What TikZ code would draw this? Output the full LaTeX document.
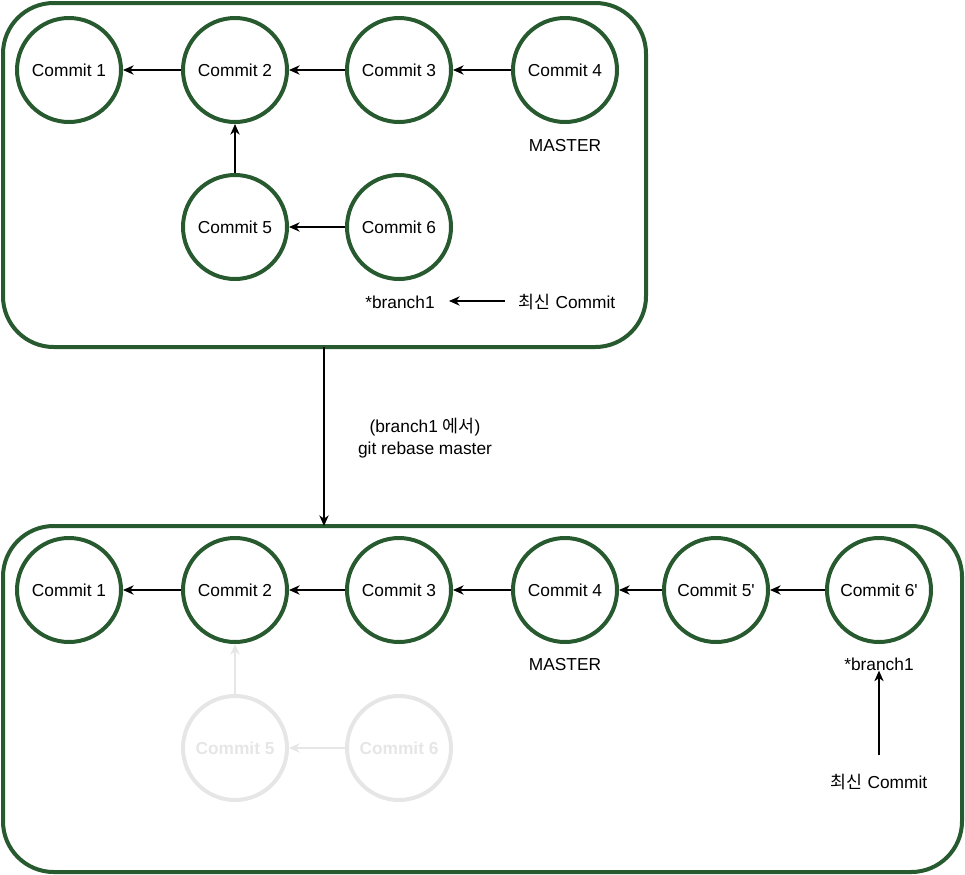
\documentclass[tikz,border=0pt]{standalone}
\usepackage{fontspec}
\setmainfont{Liberation Sans}
\newfontfamily\plainfont{Liberation Sans}
\newfontfamily\kr{Noto Sans CJK KR}
\usetikzlibrary{arrows.meta}
\definecolor{grn}{RGB}{40,90,48}
\definecolor{ghost}{RGB}{230,230,230}
\tikzset{
  commit/.style={circle,draw=grn,line width=3pt,minimum size=78pt,inner sep=0pt,font=\fontsize{13}{15}\selectfont},
  ghostc/.style={circle,draw=ghost,line width=3pt,minimum size=78pt,inner sep=0pt,text=ghost,font=\fontsize{13}{15}\selectfont\bfseries},
  lbl/.style={inner sep=0pt,font=\fontsize{13}{15}\selectfont},
  arr/.style={-{Stealth[length=8pt,width=7pt,inset=2.5pt]},line width=0.9pt},
  garr/.style={arr,draw=ghost},
  panel/.style={draw=grn,line width=3pt,rounded corners=38pt},
}
\begin{document}
\begin{tikzpicture}[x=0.75pt,y=-0.75pt]
\useasboundingbox (0,0) rectangle (965,875);
% panels
\draw[panel] (3,3) rectangle (646,347);
\draw[panel] (3,526) rectangle (962,872);
\coordinate (top) at (324,347);
\coordinate (bot) at (324,526);
\draw[arr] (top) -- (bot);
\node[lbl,align=center] (cmd) at (425,438) {({branch1} {\kr 에서})\\[2pt]git rebase master};
% top
\node[commit] (a1) at (69,70) {Commit 1};
\node[commit] (a2) at (235,70) {Commit 2};
\node[commit] (a3) at (399,70) {Commit 3};
\node[commit] (a4) at (565,70) {Commit 4};
\node[commit] (a5) at (235,227) {Commit 5};
\node[commit] (a6) at (399,227) {Commit 6};
\node[lbl] (am) at (565,146) {MASTER};
\node[lbl] (ab) at (400,302) {*branch1};
\node[lbl] (an) at (567,302) {{\kr 최신} Commit};
\draw[arr] (a2) -- (a1);
\draw[arr] (a3) -- (a2);
\draw[arr] (a4) -- (a3);
\draw[arr] (a5) -- (a2);
\draw[arr] (a6) -- (a5);
\coordinate (anl) at (505,301);
\draw[arr] (anl) -- (449,301);
% bottom ghosts
\node[ghostc] (g5) at (235,748) {Commit 5};
\node[ghostc] (g6) at (399,748) {Commit 6};
% bottom
\node[commit] (b1) at (69,590) {Commit 1};
\node[commit] (b2) at (235,590) {Commit 2};
\node[commit] (b3) at (399,590) {Commit 3};
\node[commit] (b4) at (565,590) {Commit 4};
\node[commit] (b5) at (716,590) {Commit 5{\plainfont '}};
\node[commit] (b6) at (879,590) {Commit 6{\plainfont '}};
\node[lbl] (bm) at (565,665) {MASTER};
\node[lbl] (bb) at (879,664) {*branch1};
\node[lbl] (bn) at (879,782) {{\kr 최신} Commit};
\draw[arr] (b2) -- (b1);
\draw[arr] (b3) -- (b2);
\draw[arr] (b4) -- (b3);
\draw[arr] (b5) -- (b4);
\draw[arr] (b6) -- (b5);
\draw[garr] (g5) -- (b2);
\draw[garr] (g6) -- (g5);
\coordinate (bnt) at (879,755);
\draw[arr] (bnt) -- (bb);
\end{tikzpicture}
\end{document}
